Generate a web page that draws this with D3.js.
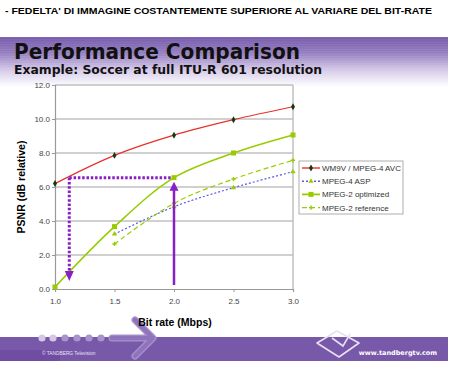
<!DOCTYPE html>
<html>
<head>
<meta charset="utf-8">
<script src="https://cdn.jsdelivr.net/npm/d3@7"></script>
<style>
  body { margin: 0; background: #fff; }
  svg { display: block; }
</style>
</head>
<body>
<div id="chart"></div>
<script>
// data
var bitrates = [1.0, 1.5, 2.0, 2.5, 3.0];
var wm9v = [6.2, 7.86, 9.05, 9.96, 10.72];
var mpeg4asp = [null, 3.23, 4.84, 5.96, 6.9];
var mpeg2opt = [0.12, 3.67, 6.55, 8.0, 9.06];
var mpeg2ref = [null, 2.65, 5.04, 6.47, 7.57];
var seriesNames = ["WM9V / MPEG-4 AVC", "MPEG-4 ASP", "MPEG-2 optimized", "MPEG-2 reference"];
var yTicks = [0, 2, 4, 6, 8, 10, 12];
var xTicks = [1.0, 1.5, 2.0, 2.5, 3.0];
// annotation: same quality (6.55 dB) reached at 1.12 vs 2.0 Mbps
var equalQuality = 6.55;
var avcRate = 1.12;
var mpeg2Rate = 2.0;

var W = 450, H = 365;
var svg = d3.select("#chart").append("svg")
    .attr("width", W)
    .attr("height", H);

var defs = svg.append("defs");

// banner gradient: purple on top fading to white
var bg = defs.append("linearGradient").attr("id", "banner")
    .attr("x1", 0).attr("y1", 0).attr("x2", 0).attr("y2", 1);
bg.append("stop").attr("offset", "0%").attr("stop-color", "#7e64b2");
bg.append("stop").attr("offset", "30%").attr("stop-color", "#9a84c4");
bg.append("stop").attr("offset", "62%").attr("stop-color", "#d2c6e6");
bg.append("stop").attr("offset", "100%").attr("stop-color", "#ffffff");

svg.append("text")
    .attr("x", 5).attr("y", 14)
    .attr("font-family", "Liberation Sans, Arial, sans-serif")
    .attr("font-weight", "bold")
    .attr("font-size", 9.6)
    .attr("textLength", 427)
    .attr("lengthAdjust", "spacingAndGlyphs")
    .text("- FEDELTA' DI IMMAGINE COSTANTEMENTE SUPERIORE AL VARIARE DEL BIT-RATE");

// banner with horizontal stripes
svg.append("rect")
    .attr("x", 0).attr("y", 37).attr("width", 448).attr("height", 50)
    .attr("fill", "url(#banner)");
var stripes = d3.range(38.5, 70, 2.4);
svg.append("g").selectAll("line")
    .data(stripes)
    .join("line")
    .attr("x1", 0).attr("x2", 448)
    .attr("y1", function (d) { return d; })
    .attr("y2", function (d) { return d; })
    .attr("stroke", "#5a3c94")
    .attr("stroke-opacity", function (d) { return 0.22 - (d - 38) * 0.006; })
    .attr("stroke-width", 1);

svg.append("text")
    .attr("x", 14).attr("y", 59)
    .attr("font-family", "DejaVu Sans, Verdana, sans-serif")
    .attr("font-weight", "bold")
    .attr("font-size", 22)
    .attr("textLength", 286)
    .attr("lengthAdjust", "spacingAndGlyphs")
    .attr("fill", "#111")
    .text("Performance Comparison");

svg.append("text")
    .attr("x", 14).attr("y", 74)
    .attr("font-family", "DejaVu Sans, Verdana, sans-serif")
    .attr("font-weight", "bold")
    .attr("font-size", 11.5)
    .attr("textLength", 308)
    .attr("lengthAdjust", "spacingAndGlyphs")
    .attr("fill", "#111")
    .text("Example: Soccer at full ITU-R 601 resolution");

// chart scales
var x = d3.scaleLinear().domain([1, 3]).range([55, 293]);
var y = d3.scaleLinear().domain([0, 12]).range([289, 85]);

var plot = svg.append("g");

// gridlines
plot.append("g").selectAll("line")
    .data(yTicks.slice(1))
    .join("line")
    .attr("x1", x(1)).attr("x2", x(3))
    .attr("y1", function (d) { return y(d); })
    .attr("y2", function (d) { return y(d); })
    .attr("stroke", "#c0c0c0")
    .attr("stroke-width", 1.5);

// right frame
plot.append("line")
    .attr("x1", x(3)).attr("x2", x(3))
    .attr("y1", y(12)).attr("y2", y(0))
    .attr("stroke", "#c0c0c0").attr("stroke-width", 1.5);

// y axis
var yAxis = plot.append("g")
    .attr("transform", "translate(" + x(1) + ",0)")
    .call(d3.axisLeft(y).tickValues(yTicks).tickSize(3).tickFormat(d3.format(".1f")));
yAxis.select(".domain").attr("stroke", "#999").attr("stroke-width", 1.2);
yAxis.selectAll(".tick line").attr("stroke", "#999");
yAxis.selectAll(".tick text")
    .attr("font-family", "Liberation Sans, Arial, sans-serif")
    .attr("font-size", 8)
    .attr("fill", "#444")
    .attr("x", -5);

// x axis
var xAxis = plot.append("g")
    .attr("transform", "translate(0," + y(0) + ")")
    .call(d3.axisBottom(x).tickValues(xTicks).tickSize(3).tickFormat(d3.format(".1f")));
xAxis.select(".domain").attr("stroke", "#999").attr("stroke-width", 1.2);
xAxis.selectAll(".tick line").attr("stroke", "#999");
xAxis.selectAll(".tick text")
    .attr("font-family", "Liberation Sans, Arial, sans-serif")
    .attr("font-size", 8)
    .attr("fill", "#444")
    .attr("y", 9);

// axis titles
svg.append("text")
    .attr("transform", "translate(25,187) rotate(-90)")
    .attr("text-anchor", "middle")
    .attr("font-family", "Liberation Sans, Arial, sans-serif")
    .attr("font-weight", "bold")
    .attr("font-size", 10.5)
    .text("PSNR (dB relative)");

// footer (drawn before the x title so the arrow sits beneath it)
var footer = svg.append("g");
footer.append("rect")
    .attr("x", 0).attr("y", 337).attr("width", 448).attr("height", 24)
    .attr("fill", "#7858a8");
footer.append("rect")
    .attr("x", 0).attr("y", 350).attr("width", 60).attr("height", 11)
    .attr("fill", "#6a46a0").attr("opacity", 0.6);

var dots = [42, 53, 65, 77, 89, 101];
footer.append("g").selectAll("circle")
    .data(dots)
    .join("circle")
    .attr("cx", function (d) { return d; })
    .attr("cy", 338)
    .attr("r", 3.6)
    .attr("fill", function (d, i) { return i < 2 ? "#d4c8e6" : "#a893cc"; });
footer.append("path")
    .attr("d", "M112,338 L152,338 M135,320 L153,338 L135,356")
    .attr("fill", "none")
    .attr("stroke", "#a893cc")
    .attr("stroke-width", 7)
    .attr("stroke-linecap", "round")
    .attr("stroke-linejoin", "round");
footer.append("path")
    .attr("d", "M112,338 L152,338 M135,320 L153,338 L135,356")
    .attr("fill", "none")
    .attr("stroke", "#8f74bd")
    .attr("stroke-width", 4.5)
    .attr("stroke-linecap", "round")
    .attr("stroke-linejoin", "round");

footer.append("text")
    .attr("x", 42).attr("y", 355)
    .attr("font-family", "Liberation Sans, Arial, sans-serif")
    .attr("font-size", 4.8)
    .attr("fill", "#e8e0f2")
    .text("©   TANDBERG Television");

footer.append("path")
    .attr("d", "M317,343 L337,331 L359,343 L339,357 Z")
    .attr("fill", "none")
    .attr("stroke", "#e8e0f2")
    .attr("stroke-width", 1.6)
    .attr("stroke-linejoin", "round");
footer.append("path")
    .attr("d", "M332,338 L343,346 L350,334")
    .attr("fill", "none")
    .attr("stroke", "#e8e0f2")
    .attr("stroke-width", 1.6);

footer.append("text")
    .attr("x", 437).attr("y", 355)
    .attr("text-anchor", "end")
    .attr("font-family", "DejaVu Sans, Verdana, sans-serif")
    .attr("font-weight", "bold")
    .attr("font-size", 6.5)
    .attr("fill", "#fff")
    .text("www.tandbergtv.com");

svg.append("text")
    .attr("x", 175).attr("y", 326)
    .attr("text-anchor", "middle")
    .attr("font-family", "Liberation Sans, Arial, sans-serif")
    .attr("font-weight", "bold")
    .attr("font-size", 10.5)
    .text("Bit rate (Mbps)");

// series
var green = "#99cc00";
var series = [
  { name: seriesNames[0], values: wm9v, color: "#e8302a", dash: null, width: 1.2, marker: "diamond", mcolor: "#153a15" },
  { name: seriesNames[1], values: mpeg4asp, color: "#5a5ae6", dash: "2,2", width: 1.2, marker: "triangle", mcolor: green },
  { name: seriesNames[2], values: mpeg2opt, color: green, dash: null, width: 1.6, marker: "square", mcolor: green },
  { name: seriesNames[3], values: mpeg2ref, color: green, dash: "5,3", width: 1.2, marker: "star", mcolor: green }
];

var line = d3.line()
    .defined(function (d) { return d.v != null; })
    .x(function (d) { return x(d.r); })
    .y(function (d) { return y(d.v); })
    .curve(d3.curveCatmullRom.alpha(0.5));

function pts(s) {
  return bitrates.map(function (r, i) { return { r: r, v: s.values[i] }; });
}

function drawMarker(g, type, color, cx, cy) {
  if (type === "diamond") {
    g.append("path").attr("d", d3.symbol(d3.symbolDiamond, 14)())
      .attr("transform", "translate(" + cx + "," + cy + ")").attr("fill", color);
  } else if (type === "square") {
    g.append("rect").attr("x", cx - 2.5).attr("y", cy - 2.5)
      .attr("width", 5).attr("height", 5).attr("fill", color);
  } else if (type === "triangle") {
    g.append("path").attr("d", d3.symbol(d3.symbolTriangle, 12)())
      .attr("transform", "translate(" + cx + "," + cy + ")").attr("fill", color);
  } else {
    g.append("path").attr("d", d3.symbol(d3.symbolCross, 10)())
      .attr("transform", "translate(" + cx + "," + cy + ")").attr("fill", color);
  }
}

var lines = plot.append("g");
series.forEach(function (s) {
  lines.append("path")
    .datum(pts(s))
    .attr("d", line)
    .attr("fill", "none")
    .attr("stroke", s.color)
    .attr("stroke-width", s.width)
    .attr("stroke-dasharray", s.dash);
});
series.forEach(function (s) {
  pts(s).filter(function (d) { return d.v != null; }).forEach(function (d) {
    drawMarker(lines, s.marker, s.mcolor, x(d.r), y(d.v));
  });
});

// purple annotation
var purple = "#8a1fc4";
var ann = plot.append("g");
ann.append("line")
    .attr("x1", x(avcRate)).attr("x2", x(mpeg2Rate) - 3)
    .attr("y1", y(equalQuality)).attr("y2", y(equalQuality))
    .attr("stroke", purple).attr("stroke-width", 3)
    .attr("stroke-dasharray", "2.5,1.8");
ann.append("line")
    .attr("x1", x(avcRate)).attr("x2", x(avcRate))
    .attr("y1", y(equalQuality)).attr("y2", y(0) - 18)
    .attr("stroke", purple).attr("stroke-width", 3)
    .attr("stroke-dasharray", "2.5,1.8");
ann.append("path")
    .attr("d", "M" + (x(avcRate) - 4.5) + "," + (y(0) - 18) + " L" + (x(avcRate) + 4.5) + "," + (y(0) - 18) +
      " L" + x(avcRate) + "," + (y(0) - 8) + " Z")
    .attr("fill", purple);
ann.append("line")
    .attr("x1", x(mpeg2Rate)).attr("x2", x(mpeg2Rate))
    .attr("y1", y(0) - 4).attr("y2", y(equalQuality) + 12)
    .attr("stroke", purple).attr("stroke-width", 2.5);
ann.append("path")
    .attr("d", "M" + (x(mpeg2Rate) - 4.5) + "," + (y(equalQuality) + 13) + " L" + (x(mpeg2Rate) + 4.5) + "," + (y(equalQuality) + 13) +
      " L" + x(mpeg2Rate) + "," + (y(equalQuality) + 4) + " Z")
    .attr("fill", purple);

// legend
var lg = svg.append("g").attr("transform", "translate(299,161)");
lg.append("rect")
    .attr("width", 104).attr("height", 53)
    .attr("fill", "#fff").attr("stroke", "#999").attr("stroke-width", 0.8);
series.forEach(function (s, i) {
  var ly = 7 + i * 13.2;
  lg.append("line")
    .attr("x1", 3).attr("x2", 21)
    .attr("y1", ly).attr("y2", ly)
    .attr("stroke", s.color)
    .attr("stroke-width", s.width + 0.2)
    .attr("stroke-dasharray", s.dash);
  drawMarker(lg, s.marker, s.mcolor, 12, ly);
  lg.append("text")
    .attr("x", 23).attr("y", ly + 3)
    .attr("font-family", "Liberation Sans, Arial, sans-serif")
    .attr("font-size", 8)
    .attr("fill", "#333")
    .text(s.name);
});
</script>
</body>
</html>
